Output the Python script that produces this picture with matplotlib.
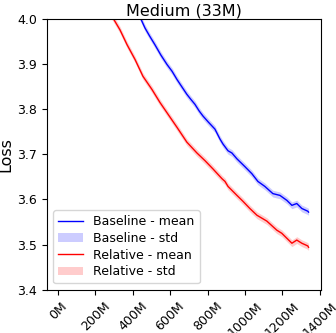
import matplotlib
matplotlib.use("Agg")
import matplotlib.pyplot as plt
from matplotlib.ticker import FuncFormatter
import numpy as np

# tokens seen (millions) and mean loss
base_x = [400, 443, 465, 490, 518, 550, 583, 610, 636, 660, 689, 710, 732, 755, 775, 805, 839,
          866, 882, 909, 930, 957, 999, 1037, 1069, 1106, 1149, 1187, 1224, 1251, 1277, 1304, 1336, 1340]
base_mean = [4.04, 4.00, 3.980, 3.962, 3.943, 3.920, 3.899, 3.884, 3.866, 3.851, 3.833, 3.822,
             3.811, 3.796, 3.785, 3.771, 3.756, 3.734, 3.723, 3.708, 3.703, 3.690, 3.673, 3.657,
             3.640, 3.629, 3.613, 3.609, 3.598, 3.587, 3.591, 3.580, 3.574, 3.572]
base_std = 0.0075

rel_x = [250, 294, 331, 369, 412, 454, 502, 545, 588, 636, 689, 743, 786, 828, 877, 893, 909,
         957, 989, 1026, 1064, 1117, 1170, 1197, 1224, 1251, 1277, 1304, 1336, 1340]
rel_mean = [4.03, 4.002, 3.976, 3.943, 3.910, 3.873, 3.844, 3.815, 3.789, 3.760, 3.727, 3.703,
            3.686, 3.668, 3.646, 3.640, 3.629, 3.609, 3.596, 3.580, 3.565, 3.552, 3.532, 3.525,
            3.514, 3.503, 3.510, 3.503, 3.497, 3.494]
rel_std = 0.0075

fig, ax = plt.subplots(figsize=(3.36, 3.33), dpi=100)

bx = np.array(base_x) * 1e6
bm = np.array(base_mean)
rx = np.array(rel_x) * 1e6
rm = np.array(rel_mean)

ax.plot(bx, bm, color="blue", lw=1.0, label="Baseline - mean")
ax.fill_between(bx, bm - base_std, bm + base_std, color="blue", alpha=0.2, lw=0, label="Baseline - std")
ax.plot(rx, rm, color="red", lw=1.0, label="Relative - mean")
ax.fill_between(rx, rm - rel_std, rm + rel_std, color="red", alpha=0.2, lw=0, label="Relative - std")

ax.set_ylim(3.4, 4.0)
ax.set_xlim(-59e6, 1406e6)
ax.set_xticks(np.arange(0, 1400e6 + 1, 200e6))
ax.xaxis.set_major_formatter(FuncFormatter(lambda v, p: f"{v / 1e6:.0f}M"))
ax.tick_params(axis="x", labelrotation=45, labelsize=9)
ax.tick_params(axis="y", labelsize=9)
ax.set_ylabel("Loss", fontsize=11.5, labelpad=3)
ax.set_title("Medium (33M)", fontsize=11.5, pad=2)
ax.legend(loc="lower left", fontsize=9, labelspacing=0.3)

fig.subplots_adjust(left=0.14, right=0.955, top=0.943, bottom=0.13)
fig.savefig("out.png", dpi=100)
